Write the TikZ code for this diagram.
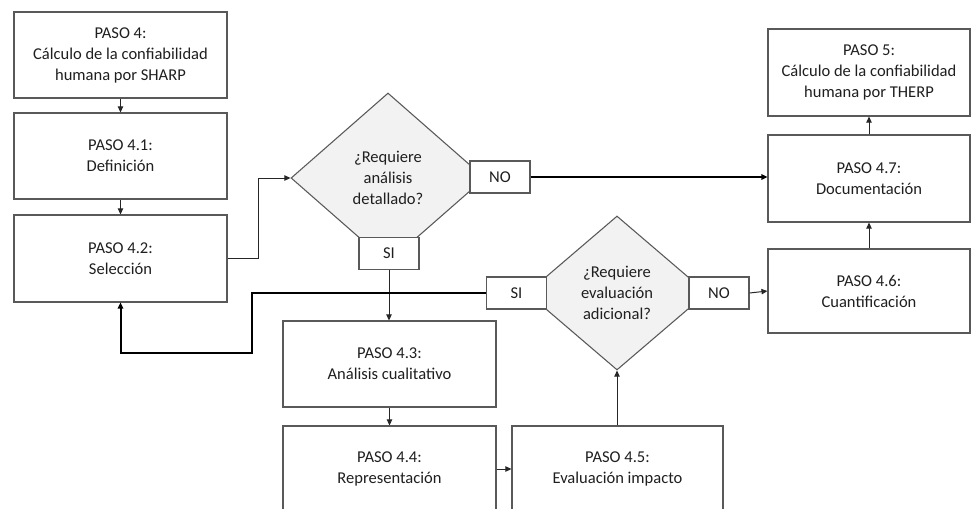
\documentclass[tikz,border=0pt]{standalone}
\usepackage{fontspec}
\setmainfont{Carlito}
\usetikzlibrary{arrows.meta,shapes.geometric}
\definecolor{edgegray}{HTML}{595959}
\definecolor{txtgray}{HTML}{1F1F1F}
\definecolor{fillgray}{HTML}{F2F2F2}
\begin{document}
\begin{tikzpicture}[x=0.75pt,y=-0.75pt,
  every node/.style={font=\fontsize{12.4}{15.75}\selectfont, text=txtgray},
  stepbox/.style={draw=edgegray, line width=0.8pt, fill=white, rectangle,
    inner sep=0pt, align=center},
  decision/.style={draw=edgegray, line width=0.8pt, fill=fillgray, diamond,
    inner sep=0pt, align=center},
  tag/.style={draw=edgegray, line width=0.8pt, fill=white, rectangle,
    inner sep=0pt, minimum width=45pt, minimum height=24pt},
  flow/.style={draw=black!85, line width=0.75pt, -{Triangle[length=4.5pt,width=4pt]}},
  heavy/.style={draw=black, line width=1.5pt, -{Triangle[length=4.5pt,width=4pt]}}
]
\clip (0,0) rectangle (971,508);
\fill[white] (0,0) rectangle (971,508);

% left column
\node[stepbox, minimum width=159.75pt, minimum height=64.5pt] (p4) at (120.5,55)
  {PASO 4:\\Cálculo de la confiabilidad\\humana por SHARP};
\node[stepbox, minimum width=159.75pt, minimum height=64.5pt] (p41) at (120.5,156)
  {PASO 4.1:\\Definición};
\node[stepbox, minimum width=159.75pt, minimum height=65.25pt] (p42) at (120.5,258.5)
  {PASO 4.2:\\Selección};

% middle column
\node[stepbox, minimum width=159.75pt, minimum height=64.5pt] (p43) at (389.5,364)
  {PASO 4.3:\\Análisis cualitativo};
\node[stepbox, minimum width=159.75pt, minimum height=64.5pt] (p44) at (389.5,469)
  {PASO 4.4:\\Representación};
\node[stepbox, minimum width=158.25pt, minimum height=64.5pt] (p45) at (617.5,469)
  {PASO 4.5:\\Evaluación impacto};

% right column
\node[stepbox, minimum width=151.5pt, minimum height=63pt] (p46) at (869,291)
  {PASO 4.6:\\Cuantificación};
\node[stepbox, minimum width=151.5pt, minimum height=65.25pt] (p47) at (869,178.5)
  {PASO 4.7:\\Documentación};
\node[stepbox, minimum width=151.5pt, minimum height=65.25pt] (p5) at (869,72.5)
  {PASO 5:\\Cálculo de la confiabilidad\\humana por THERP};

% decisions
\node[decision, minimum width=145.5pt, minimum height=127.5pt] (d1) at (388,178)
  {¿Requiere\\análisis\\detallado?};
\node[decision, minimum width=135pt, minimum height=115.5pt] (d2) at (617,293)
  {¿Requiere\\evaluación\\adicional?};

% answer tags
\node[tag] (no1) at (500,177) {NO};
\node[tag] (si1) at (389,253.5) {SI};
\node[tag] (si2) at (516.5,293) {SI};
\node[tag] (no2) at (719,293) {NO};

% bends
\coordinate (bendA) at (258,258.5);
\coordinate (bendB) at (252,353);

% connectors
\draw[flow] (p4.south) -- (p41.north);
\draw[flow] (p41.south) -- (p42.north);
\draw[flow] (p42.east) -- (bendA) |- (d1.west);
\draw[heavy] (no1.east) -- (no1.east -| p47.west);
\draw[flow] (si1.south) -- (si1.south |- p43.north);
\draw[heavy] (si2.west) -| (bendB) -| (p42.south);
\draw[flow] (p43.south) -- (p44.north);
\draw[flow] (p44.east) -- (p45.west);
\draw[flow] (p45.north -| d2.south) -- (d2.south);
\draw[flow] (no2.east) -- (p46.west);
\draw[flow] (p46.north) -- (p47.south);
\draw[flow] (p47.north) -- (p5.south);
\end{tikzpicture}
\end{document}
